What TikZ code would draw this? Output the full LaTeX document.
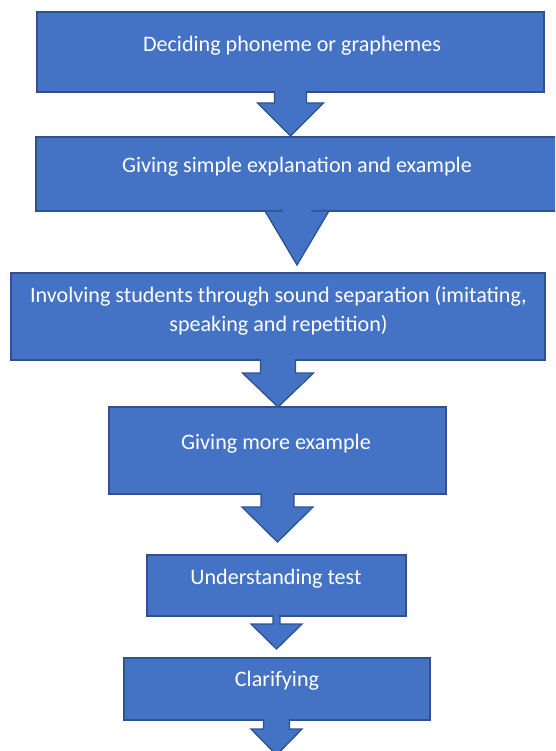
\documentclass[tikz,border=0pt]{standalone}
\usepackage{fontspec}
\setmainfont{Carlito}
\definecolor{boxblue}{HTML}{4472C4}
\definecolor{boxedge}{HTML}{2F528F}
\tikzset{
  stepbox/.style={draw=boxedge, fill=boxblue, line width=1.3pt, inner sep=0pt, rectangle},
  steptext/.style={text=white, font=\fontsize{22.1}{29}\selectfont, align=center, inner sep=0pt, anchor=base},
  blockarrow/.style={fill=boxblue, draw=boxedge, line width=1.3pt, line join=miter}
}
% cx, top y, shaft half width, shaft bottom y, head half width, tip y
\newcommand{\myblockarrow}[6]{%
  \draw[blockarrow] (#1-#3,#2) -- (#1-#3,#4) -- (#1-#5,#4) -- (#1,#6) -- (#1+#5,#4) -- (#1+#3,#4) -- (#1+#3,#2);
}
\begin{document}
\begin{tikzpicture}[x=1pt,y=-1pt]
\useasboundingbox (0,0) rectangle (555,751);
\clip (0,0) rectangle (555,751);
% boxes
\node[stepbox, minimum width=507pt, minimum height=80pt] (b1) at (290.5,52) {};
\node[stepbox, minimum width=524pt, minimum height=74pt] (b2) at (298,174) {};
\node[stepbox, minimum width=534pt, minimum height=87pt] (b3) at (278,316.5) {};
\node[stepbox, minimum width=337pt, minimum height=87pt] (b4) at (277.5,450.5) {};
\node[stepbox, minimum width=259pt, minimum height=61pt] (b5) at (276.5,585.5) {};
\node[stepbox, minimum width=306pt, minimum height=62pt] (b6) at (277,689) {};
% arrows
\myblockarrow{290.5}{91}{16}{103}{33}{136}
\myblockarrow{297}{209.5}{15}{211}{32}{265}
\myblockarrow{278}{359}{17.5}{373}{35.5}{407}
\myblockarrow{277.5}{493}{16.5}{507}{35.5}{542}
\myblockarrow{276.5}{615}{3.5}{624}{25.5}{649}
\myblockarrow{276.5}{719}{13}{729}{25.5}{755}
% texts
\node[steptext] (t1) at (292,52) {Deciding phoneme or graphemes};
\node[steptext] (t2) at (297,172.5) {Giving simple explanation and example};
\node[steptext] (t3) at (278.5,331) {Involving students through sound separation (imitating,\\speaking and repetition)};
\node[steptext] (t4) at (276,449.3) {Giving more example};
\node[steptext] (t5) at (276,584) {Understanding test};
\node[steptext] (t6) at (277,686.7) {Clarifying};
\end{tikzpicture}
\end{document}
